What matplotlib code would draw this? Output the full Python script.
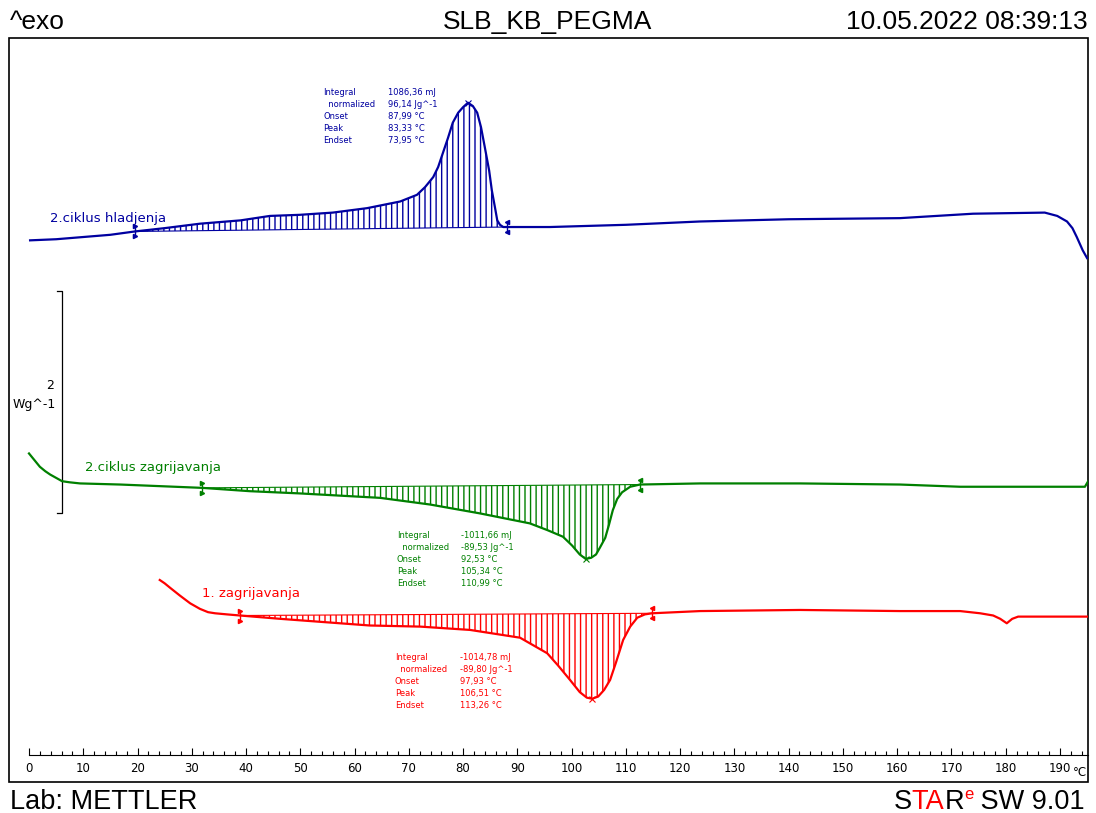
import numpy as np
import matplotlib
matplotlib.use("Agg")
import matplotlib.pyplot as plt
from matplotlib.patches import Rectangle

# --- data (temperature in degC, signal in Wg^-1, shifted curves) ---
cool_T = [0.2, 5, 10, 15, 19.5, 25, 31.5, 39, 44.4, 49.9, 56, 62.3, 68.4, 71.5, 73.0, 74.5,
          75.4, 76.3, 77.2, 78.1, 79.1, 80.0, 80.9, 81.8, 82.6, 83.3, 84.0, 84.8, 85.3, 85.9,
          86.3, 86.8, 87.4, 88.1, 96, 110, 123.7, 140, 160.5, 174, 187.2, 189.5, 191.3, 192.3,
          193.1, 194.2, 195.0]
cool_W = [4.88, 4.89, 4.91, 4.93, 4.96, 4.99, 5.03, 5.06, 5.10, 5.11, 5.13, 5.17, 5.23, 5.29,
          5.36, 5.45, 5.54, 5.67, 5.80, 5.94, 6.03, 6.08, 6.12, 6.09, 6.03, 5.90, 5.72, 5.51,
          5.33, 5.17, 5.06, 5.02, 5.00, 5.00, 5.00, 5.02, 5.05, 5.07, 5.08, 5.12, 5.13, 5.10,
          5.05, 4.99, 4.91, 4.79, 4.72]

heat2_T = [0, 1.0, 2.0, 3.0, 3.9, 5.0, 6.1, 7.5, 9.4, 16.8, 31.9, 40.7, 49.9, 64.7, 73.9, 83.1,
           92.3, 95.5, 98.4, 100.1, 101.5, 102.6, 103.6, 104.5, 105.2, 106.2, 106.9, 107.6,
           108.4, 109.3, 110.8, 112.6, 123.7, 142.1, 160.5, 171.6, 194.6, 195.2]
heat2_W = [2.96, 2.90, 2.84, 2.80, 2.77, 2.74, 2.71, 2.70, 2.69, 2.68, 2.65, 2.62, 2.60, 2.56,
           2.50, 2.42, 2.33, 2.27, 2.21, 2.13, 2.05, 2.01, 2.02, 2.05, 2.11, 2.20, 2.32, 2.45,
           2.55, 2.61, 2.66, 2.68, 2.69, 2.69, 2.68, 2.66, 2.66, 2.71]

heat1_T = [24.1, 25.0, 26.0, 27.8, 29.7, 31.5, 33.0, 34.3, 36.5, 38.9, 46.3, 57.3, 62.8, 72.1,
           81.3, 90.5, 95.5, 97.5, 99.7, 101.5, 102.8, 103.8, 104.9, 106.0, 107.1, 108.2, 109.5,
           110.8, 112.1, 113.5, 114.8, 123.7, 142.1, 160.5, 171.6, 175.3, 177.7, 179.0, 180.2,
           181.2, 182.3, 195.0]
heat1_W = [1.82, 1.79, 1.75, 1.68, 1.61, 1.56, 1.53, 1.52, 1.51, 1.50, 1.47, 1.43, 1.41, 1.40,
           1.37, 1.30, 1.16, 1.05, 0.92, 0.81, 0.76, 0.75, 0.77, 0.83, 0.92, 1.08, 1.28, 1.40,
           1.48, 1.51, 1.52, 1.54, 1.55, 1.54, 1.54, 1.52, 1.50, 1.47, 1.43, 1.47, 1.49, 1.49]

# integration limits (degC) and peak positions
cool_limits = (19.5, 88.1)
heat2_limits = (31.9, 112.6)
heat1_limits = (38.9, 114.8)
cool_peak = 80.9
heat2_peak = 102.6
heat1_peak = 103.8

result_names = ["Integral", "  normalized", "Onset", "Peak", "Endset"]
cool_results = ["1086,36 mJ", "96,14 Jg^-1", "87,99 \u00b0C", "83,33 \u00b0C", "73,95 \u00b0C"]
heat2_results = ["-1011,66 mJ", "-89,53 Jg^-1", "92,53 \u00b0C", "105,34 \u00b0C", "110,99 \u00b0C"]
heat1_results = ["-1014,78 mJ", "-89,80 Jg^-1", "97,93 \u00b0C", "106,51 \u00b0C", "113,26 \u00b0C"]

x_ticks = list(range(0, 200, 10))

BLUE = "#0000a0"
GREEN = "#008000"
RED = "#ff0000"

fig = plt.figure(figsize=(10.96, 8.13), dpi=100)
ax = fig.add_axes([9 / 1096, 31 / 813, 1079 / 1096, 744 / 813])
ax.set_xlim(-3.686, 195.17)
ax.set_ylim(0, 6.703)

for s in ["top", "left", "right"]:
    ax.spines[s].set_visible(False)
ax.spines["bottom"].set_position(("data", 0.243))
ax.spines["bottom"].set_bounds(0, 195.17)
ax.spines["bottom"].set_linewidth(0.8)
ax.set_yticks([])
ax.set_xticks(x_ticks)
ax.set_xticks(np.arange(0, 196, 2), minor=True)
ax.tick_params(axis="x", which="major", direction="in", length=5, width=0.8, labelsize=8.5, pad=5)
ax.tick_params(axis="x", which="minor", direction="in", length=3, width=0.8)
ax.text(193.6, 0.243 - 0.155, "\u00b0C", fontsize=8.5, ha="center", va="center")
ax.add_patch(Rectangle((0, 0), 1, 1, transform=ax.transAxes, fill=False, lw=1.2,
                       edgecolor="black", clip_on=False))


def draw_curve(T, W, limits, peak, color):
    T = np.array(T)
    W = np.array(W)
    ax.plot(T, W, color=color, lw=1.6, zorder=3, solid_joinstyle="round")
    lo, hi = limits
    y_lo = W[T == lo][0]
    y_hi = W[T == hi][0]
    m = (T >= lo) & (T <= hi)
    base = y_lo + (y_hi - y_lo) * (T[m] - lo) / (hi - lo)
    ax.fill_between(T[m], W[m], base, facecolor="none", edgecolor=color, hatch="|||",
                    linewidth=0, zorder=2)
    ax.plot([lo, hi], [y_lo, y_hi], color=color, lw=0.8, zorder=2)
    # limit markers
    for xv, yv, mk in [(lo, y_lo, ">"), (hi, y_hi, "<")]:
        ax.plot([xv], [yv], marker="|", ms=8, mew=1, color=color, zorder=4)
        ax.plot([xv, xv], [yv + 0.045, yv - 0.045], ls="none", marker=mk, ms=3, color=color, zorder=4)
    yp = W[T == peak][0]
    ax.plot([peak], [yp], marker="x", ms=4, mew=0.8, color=color, zorder=4)


draw_curve(cool_T, cool_W, cool_limits, cool_peak, BLUE)
draw_curve(heat2_T, heat2_W, heat2_limits, heat2_peak, GREEN)
draw_curve(heat1_T, heat1_W, heat1_limits, heat1_peak, RED)


def results_box(x_name, x_val, y_top, values, color):
    for i, (n, v) in enumerate(zip(result_names, values)):
        yy = y_top - i * 0.11
        ax.text(x_name, yy, n, fontsize=6, color=color, va="center", ha="left")
        ax.text(x_val, yy, v, fontsize=6, color=color, va="center", ha="left")


results_box(54.2, 66.2, (782 - 92) / 111, cool_results, BLUE)
results_box(67.8, 79.6, (782 - 535) / 111, heat2_results, GREEN)
results_box(67.4, 79.4, (782 - 657) / 111, heat1_results, RED)

ax.text(3.9, (782 - 218) / 111, "2.ciklus hladjenja", fontsize=9.5, color=BLUE, va="center")
ax.text(10.3, (782 - 467) / 111, "2.ciklus zagrijavanja", fontsize=9.5, color=GREEN, va="center")
ax.text(31.9, (782 - 593) / 111, "1. zagrijavanja", fontsize=9.5, color=RED, va="center")

# scale bar 2 Wg^-1
bar_x = 6.08
bar_lo, bar_hi = 2.423, 4.423
ax.plot([5.16, bar_x, bar_x, 5.16], [bar_hi, bar_hi, bar_lo, bar_lo], color="black", lw=0.9)
ax.text(4.6, (782 - 385) / 111, "2", fontsize=9, ha="right", va="center")
ax.text(4.9, (782 - 404) / 111, "Wg^-1", fontsize=9, ha="right", va="center")

# header
hdr = dict(fontsize=19, family="Liberation Sans", va="center")
fig.text(10 / 1096, 1 - 22 / 813, "^exo", ha="left", **hdr)
fig.text(548 / 1096, 1 - 22 / 813, "SLB_KB_PEGMA", ha="center", **hdr)
fig.text(1088 / 1096, 1 - 22 / 813, "10.05.2022 08:39:13", ha="right", **hdr)

# footer
ftr = dict(fontsize=19.5, family="Liberation Sans", va="baseline")
yb = 1 - 809 / 813
fig.text(10 / 1096, yb, "Lab: METTLER", ha="left", **ftr)

renderer = fig.canvas.get_renderer()
pieces = [("S", "black", 0), ("TA", RED, 0), ("R", "black", 0), ("e", RED, 1), (" SW 9.01", "black", 0)]
x_right = 1085 / 1096
for txt, col, sup in reversed(pieces):
    if sup:
        t = fig.text(x_right, yb + 10 / 813, txt, ha="right", color=col, fontsize=12,
                     family="Liberation Sans", va="baseline")
    else:
        t = fig.text(x_right, yb, txt, ha="right", color=col, **ftr)
    bb = t.get_window_extent(renderer)
    x_right = bb.x0 / fig.bbox.width

fig.savefig("out.png", dpi=100)
